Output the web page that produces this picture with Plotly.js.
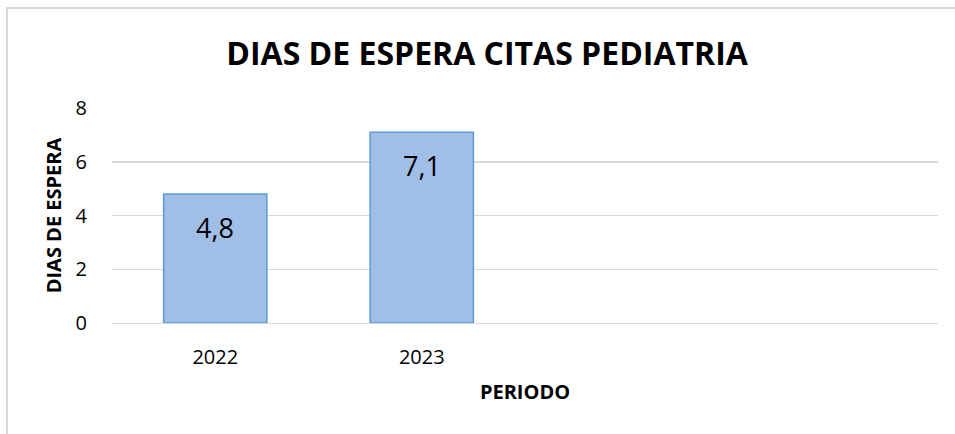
<!DOCTYPE html>
<html>
<head>
<meta charset="utf-8">
<script src="https://cdn.plot.ly/plotly-3.0.1.min.js"></script>
<style>
html,body{margin:0;padding:0;background:#fff;}
#chart{width:955px;height:434px;}
#frame{position:absolute;left:6px;top:7px;right:0;bottom:0;border-top:2px solid #d9d9d9;border-left:2px solid #d9d9d9;pointer-events:none;}
</style>
</head>
<body>
<div id="chart"></div>
<div id="frame"></div>
<script>
const categories = ['2022', '2023'];
const values = [4.8, 7.1];
const valueLabels = ['4,8', '7,1'];
const chartTitle = 'DIAS DE ESPERA CITAS PEDIATRIA';
const xTitle = 'PERIODO';
const yTitle = 'DIAS DE ESPERA';

const FONT = 'Open Sans, Noto Sans, sans-serif';

const trace = {
  type: 'bar',
  x: categories,
  y: values,
  marker: {color: '#a1bfe6', line: {color: '#5b9bd5', width: 1.5}},
  hoverinfo: 'none'
};

const annotations = categories.map((c, i) => ({
  x: i, y: values[i], xref: 'x', yref: 'y',
  text: valueLabels[i], showarrow: false,
  yshift: -33, font: {family: FONT, size: 27, color: '#000'}
}));

const layout = {
  width: 955, height: 434,
  margin: {l: 112, r: 17, t: 108, b: 111},
  paper_bgcolor: '#fff', plot_bgcolor: '#fff',
  showlegend: false,
  bargap: 0.5,
  title: {text: '<b>' + chartTitle + '</b>', font: {family: FONT, size: 32, color: '#000'},
          x: 0.51, xanchor: 'center', y: 0.875, yanchor: 'middle', xref: 'container'},
  xaxis: {
    type: 'category', range: [-0.5, 3.5],
    tickfont: {family: FONT, size: 20, color: '#000'},
    showgrid: false, zeroline: false,
    showline: true, linecolor: '#d9d9d9', linewidth: 1,
    ticks: 'outside', tickcolor: 'rgba(0,0,0,0)', ticklen: 16,
    title: {text: '<b>' + xTitle + '</b>', font: {family: FONT, size: 20, color: '#000'}, standoff: 15}
  },
  yaxis: {
    range: [0, 8], tickvals: [0, 2, 4, 6, 8], ticktext: ['0', '2', '4', '6', '8'],
    tickfont: {family: FONT, size: 20, color: '#000'},
    showgrid: true, gridcolor: '#d9d9d9', gridwidth: 1.5,
    zeroline: false, showline: false,
    ticks: 'outside', tickcolor: 'rgba(0,0,0,0)', ticklen: 20,
    title: {text: '<b>' + yTitle + '</b>', font: {family: FONT, size: 20, color: '#000'}, standoff: 8}
  },
  annotations: annotations
};

Plotly.newPlot('chart', [trace], layout, {displayModeBar: false, staticPlot: true});
</script>
</body>
</html>
